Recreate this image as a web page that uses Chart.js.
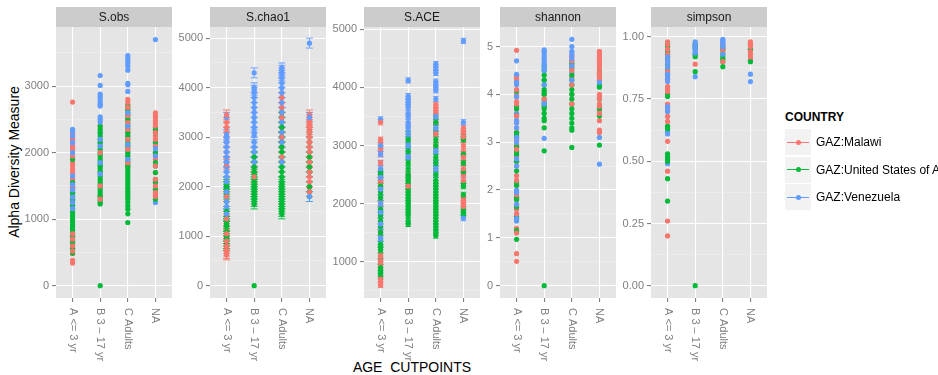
<!DOCTYPE html>
<html>
<head>
<meta charset="utf-8">
<script src="https://cdn.jsdelivr.net/npm/chart.js@4.4.0/dist/chart.umd.min.js"></script>
<style>
  body { margin: 0; background: #fff; font-family: "Liberation Sans", Arial, sans-serif; }
  #wrap { position: relative; width: 938px; height: 375px; overflow: hidden; }
  #wrap canvas { position: absolute; left: 0; top: 0; }
  .ytitle { position: absolute; left: 14px; top: 162px; transform: translate(-50%, -50%) rotate(-90deg);
            font-size: 14px; white-space: nowrap; color: #000; }
  .xtitle { position: absolute; left: 412px; top: 367px; transform: translate(-50%, -50%);
            font-size: 14px; white-space: pre; color: #000; }
  .ltitle { position: absolute; left: 785px; top: 110px; font-size: 12px; font-weight: bold; color: #000; }
  .lkey { position: absolute; left: 785px; width: 26px; height: 26px; background: #F2F2F2; }
  .lkey .line { position: absolute; left: 2px; top: 12.5px; width: 22px; height: 1px; }
  .lkey .dot { position: absolute; left: 10.5px; top: 10.5px; width: 5px; height: 5px; border-radius: 50%; }
  .ltext { position: absolute; left: 816px; font-size: 12px; color: #000; white-space: nowrap; }
</style>
</head>
<body>
<div id="wrap">
  <div class="ytitle">Alpha Diversity Measure</div>
  <div class="xtitle">AGE  CUTPOINTS</div>
  <div class="ltitle">COUNTRY</div>
</div>
<script>
// Categories and groups
const categories = ['A <= 3 yr', 'B 3 – 17 yr', 'C Adults', 'NA'];
const countries = ['GAZ:Malawi', 'GAZ:United States of America', 'GAZ:Venezuela'];
const countryColors = ['#F8766D', '#00BA38', '#619CFF'];

// Each series: values for [A, B, C, NA]
const obsMalawi = [
  [2760, 2290, 2250, 2200, 2150, 2100, 2050, 1950, 1850, 1800, 1750, 1700, 1600, 1480, 1400, 780, 740, 700, 650, 600, 560, 520, 480, 380, 340],
  [2400, 2000, 1700, 1500, 1350, 1300],
  [2800, 2760, 2720, 2680, 2640, 2560, 2500, 2450, 2400, 2350, 2300, 2200, 2100, 2050, 1950, 1850, 1800],
  [2600, 2560, 2520, 2480, 2440, 2400, 2340, 2300, 2250, 2200, 2150, 2100, 2000, 1950, 1900, 1800, 1700, 1600, 1550, 1500, 1450, 1400, 1370, 1340]
];
const obsUSA = [
  [1900, 1550, 1520, 1480, 1450, 1400, 1350, 1300, 1250, 1200, 1150, 1100, 1050, 1000, 960, 920, 880, 840, 800, 760, 720, 680, 640, 600, 560, 520, 490],
  [0, 1230, 1250, 1280, 1320, 1360, 1400, 1440, 1480, 1520, 1560, 1600, 1640, 1680, 1720, 1760, 1800, 1840, 1880, 1920, 1960, 2000, 2050, 2100, 2150, 2200, 2250, 2300, 2350, 2400],
  [950, 1080, 1150, 1200, 1250, 1300, 1340, 1380, 1420, 1460, 1500, 1540, 1580, 1620, 1660, 1700, 1740, 1780, 1820, 1860, 1900, 1950, 2000, 2050, 2100, 2150, 2200, 2250, 2300, 2350, 2400, 2450, 2500, 2550, 2600, 2650, 2700],
  [2380, 2340, 2300, 2150, 2100, 2000, 1850, 1800, 1700, 1600, 1550, 1450, 1300]
];
const obsVenezuela = [
  [2350, 2320, 2290, 2250, 2200, 2150, 2050, 2000, 1950, 1650, 1600, 1520, 1480, 1440, 1400, 1330, 1290, 1250, 1200, 1160],
  [3160, 3010, 2880, 2850, 2820, 2780, 2740, 2720, 2700, 2540, 2500, 2460, 2300, 2200, 2150, 2100, 2000, 1850, 1800, 1680],
  [3460, 3420, 3380, 3340, 3300, 3240, 3040, 3020, 2920, 2600, 2560, 2400, 2250, 2120, 2000, 1900],
  [3700, 2060, 2000, 1950, 1250]
];

const chao1Malawi = [
  [3450, 3300, 3200, 3100, 2900, 2700, 2500, 2450, 2100, 1800, 1400, 1350, 1200, 1050, 950, 900, 850, 800, 750, 700, 650, 620],
  [2400, 2200, 1900],
  [3800, 3700, 3600, 3400, 3200, 3000, 2800, 2600],
  [3450, 3400, 3350, 3300, 3250, 3200, 3150, 3100, 3000, 2900, 2800, 2700, 2600, 2500, 2400, 2300, 2200, 2100, 2000, 1900]
];
const chao1USA = [
  [2100, 2050, 2000, 1950, 1900, 1850, 1800, 1700, 1500, 1450, 1400, 1300, 1250, 1200, 1100, 1050, 1000, 950, 900, 850, 800],
  [0, 1650, 1700, 1750, 1800, 1850, 1900, 1950, 2000, 2050, 2100, 2150, 2200, 2250, 2300, 2400, 2500, 2600, 2700],
  [1450, 1500, 1550, 1600, 1650, 1700, 1750, 1800, 1850, 1900, 1950, 2000, 2050, 2100, 2200, 2300, 2400, 2500, 2600, 2700, 2800, 2900, 3000, 3100, 3200, 3300, 3400, 3500],
  [3100, 2900, 2700, 2600, 2500, 2400, 2300, 2000, 1900, 1800]
];
const chao1Venezuela = [
  [3400, 3050, 3000, 2900, 2800, 2700, 2600, 2500, 2400, 2300, 2200, 2100, 2000, 1900, 1800, 1700, 1600, 1450],
  [4300, 4000, 3950, 3900, 3800, 3700, 3600, 3500, 3400, 3300, 3200, 3100, 3050, 2900, 2800, 2700, 2600, 2500],
  [4400, 4350, 4300, 4250, 4200, 4100, 4000, 3900, 3800, 3700, 3600, 3500, 3400, 3300, 3200, 3100, 3000, 2900, 2800, 2500],
  [4900, 3400, 2300, 1800]
];

const aceMalawi = [
  [3400, 3100, 3050, 2950, 2850, 2700, 2500, 2400, 2350, 2000, 1500, 1100, 1050, 1000, 950, 700, 650, 600],
  [2500, 2300],
  [3700, 3650, 3600, 3550, 3400, 3200, 3000],
  [3300, 3250, 3200, 3150, 3100, 3000, 2900, 2800, 2700, 2600, 2500, 2400, 2100, 2050, 2000, 1950]
];
const aceUSA = [
  [2550, 2500, 2400, 2300, 2200, 2100, 2000, 1900, 1800, 1700, 1600, 1500, 1400, 1300, 1250, 1200, 1100, 1000, 900, 850, 800, 750],
  [1650, 1700, 1800, 1850, 1900, 1950, 2000, 2050, 2100, 2150, 2200, 2250, 2300, 2350, 2400, 2450, 2500, 2600, 2700, 2800, 2900, 3000, 3100, 3200],
  [1450, 1500, 1550, 1600, 1650, 1700, 1750, 1800, 1850, 1900, 1950, 2000, 2050, 2100, 2150, 2200, 2250, 2300, 2350, 2400, 2500, 2600, 2700, 2800, 2900, 3000, 3100, 3200, 3300, 3400, 3500],
  [3150, 3100, 2850, 2700, 2550, 2350, 2300, 2150, 1900, 1850, 1800]
];
const aceVenezuela = [
  [3450, 3000, 2950, 2850, 2700, 2600, 2500, 2450, 2400, 2250, 2100, 2000, 1900, 1850, 1800, 1650, 1550, 1400, 1300],
  [4120, 3850, 3800, 3750, 3700, 3650, 3550, 3500, 3400, 3350, 3300, 3200, 3100, 3000, 2900, 2800],
  [4400, 4350, 4300, 4250, 4100, 4050, 4000, 3950, 3800, 3500, 3400, 3300, 3200, 2900, 2700, 2600, 2500],
  [4800, 3400, 2500, 1750]
];

const shannonMalawi = [
  [4.92, 4.35, 4.3, 4.1, 4.0, 3.95, 3.85, 3.8, 3.7, 3.55, 3.45, 3.3, 3.2, 3.05, 2.95, 2.85, 2.7, 2.5, 2.3, 2.2, 2.1, 1.9, 1.85, 1.7, 1.6, 1.5, 1.2, 1.1, 0.67, 0.51],
  [4.0, 3.9],
  [4.8, 4.7, 4.6, 4.5, 4.35, 4.2, 4.0, 3.8],
  [4.9, 4.85, 4.8, 4.75, 4.7, 4.65, 4.6, 4.55, 4.5, 4.45, 4.4, 4.35, 4.3, 4.0, 3.95, 3.9, 3.8, 3.75, 3.65, 3.6, 3.45, 3.25, 3.2]
];
const shannonUSA = [
  [4.07, 3.75, 3.7, 3.55, 3.2, 3.15, 3.1, 2.9, 2.8, 2.75, 2.6, 2.4, 2.15, 2.1, 1.85, 1.8, 1.65, 1.45, 1.4, 1.15, 1.12, 0.97],
  [0, 2.82, 3.3, 3.45, 3.5, 3.6, 3.7, 3.75, 3.8, 3.9, 4.0, 4.05, 4.1, 4.2, 4.3, 4.4, 4.5, 4.6],
  [4.65, 4.55, 4.4, 4.3, 4.2, 4.1, 4.0, 3.9, 3.8, 3.7, 3.6, 3.5, 3.4, 3.3, 3.25, 2.89],
  [4.45, 4.2, 4.15, 3.9, 3.7, 3.55, 2.94]
];
const shannonVenezuela = [
  [4.7, 4.42, 4.4, 4.25, 4.2, 3.95, 3.6, 3.45, 3.4, 3.3, 3.2, 3.1, 3.05, 3.0, 2.9, 2.65, 2.6, 2.5, 2.0, 1.95, 1.8, 1.7, 1.5, 1.4, 1.35],
  [4.93, 4.9, 4.85, 4.8, 4.75, 4.7, 4.65, 4.6, 4.55, 4.5, 4.3, 4.2, 3.85, 3.8, 3.08],
  [5.15, 5.0, 4.9, 4.85, 4.8, 4.75, 4.7, 4.6, 4.45, 4.3, 4.2],
  [4.3, 4.25, 3.1, 2.54]
];

const simpsonMalawi = [
  [0.98, 0.97, 0.96, 0.95, 0.94, 0.93, 0.92, 0.9, 0.88, 0.86, 0.83, 0.8, 0.79, 0.78, 0.77, 0.73, 0.72, 0.7, 0.68, 0.66, 0.64, 0.58, 0.46, 0.26, 0.2],
  [0.97, 0.89],
  [0.97, 0.95, 0.94, 0.9],
  [0.98, 0.975, 0.97, 0.96, 0.95, 0.94, 0.93, 0.92, 0.91]
];
const simpsonUSA = [
  [0.97, 0.96, 0.94, 0.93, 0.92, 0.9, 0.88, 0.86, 0.85, 0.77, 0.76, 0.64, 0.63, 0.53, 0.52, 0.51, 0.5, 0.43, 0.34],
  [0, 0.86, 0.92, 0.93, 0.95, 0.96, 0.97],
  [0.96, 0.95, 0.93, 0.92, 0.91, 0.9, 0.88],
  [0.95, 0.9]
];
const simpsonVenezuela = [
  [0.93, 0.92, 0.91, 0.9, 0.89, 0.88, 0.87, 0.85, 0.84, 0.83, 0.82, 0.72, 0.71, 0.7, 0.62, 0.61, 0.49],
  [0.98, 0.97, 0.965, 0.96, 0.955, 0.95, 0.94, 0.935, 0.93, 0.84],
  [0.99, 0.985, 0.98, 0.975, 0.97, 0.96, 0.95, 0.93],
  [0.97, 0.85, 0.82]
];

// Standard errors drawn as error bars (estimates)
const chao1Se = 100;
const aceSe = 45;

// Tick values
const obsTicks = [0, 1000, 2000, 3000];
const obsMinor = [500, 1500, 2500, 3500];
const chao1Ticks = [0, 1000, 2000, 3000, 4000, 5000];
const chao1Minor = [500, 1500, 2500, 3500, 4500];
const aceTicks = [1000, 2000, 3000, 4000, 5000];
const aceMinor = [500, 1500, 2500, 3500, 4500];
const shannonTicks = [0, 1, 2, 3, 4, 5];
const shannonMinor = [0.5, 1.5, 2.5, 3.5, 4.5];
const simpsonTicks = [0, 0.25, 0.5, 0.75, 1];
const simpsonMinor = [0.125, 0.375, 0.625, 0.875];

// Panel setup
const panels = [
  { title: 'S.obs', series: [obsMalawi, obsUSA, obsVenezuela], min: -185, max: 3889, ticks: obsTicks, minor: obsMinor, digits: 0, se: 0, cap: 0 },
  { title: 'S.chao1', series: [chao1Malawi, chao1USA, chao1Venezuela], min: -249, max: 5226, ticks: chao1Ticks, minor: chao1Minor, digits: 0, se: chao1Se, cap: 3.5 },
  { title: 'S.ACE', series: [aceMalawi, aceUSA, aceVenezuela], min: 375, max: 5040, ticks: aceTicks, minor: aceMinor, digits: 0, se: aceSe, cap: 2.8 },
  { title: 'shannon', series: [shannonMalawi, shannonUSA, shannonVenezuela], min: -0.2575, max: 5.4075, ticks: shannonTicks, minor: shannonMinor, digits: 0, se: 0, cap: 0 },
  { title: 'simpson', series: [simpsonMalawi, simpsonUSA, simpsonVenezuela], min: -0.0495, max: 1.0395, ticks: simpsonTicks, minor: simpsonMinor, digits: 2, se: 0, cap: 0 }
];

const W = 938, H = 375;
const panelLefts = [56, 210, 364, 500, 651];
const panelW = 116, panelTop = 27, panelBottom = 298;
const axisW = 40, xAxisH = 12, stripH = 20;
// points are split in two halves so that colours interleave like sample order does
// (higher order is drawn first)
const halfOrder = [[5, 4, 6], [2, 3, 1]];
const fontFamily = '"Liberation Sans", Arial, sans-serif';

Chart.defaults.font.family = fontFamily;

const facetPlugin = {
  id: 'facet',
  beforeDraw(chart, args, opts) {
    const { ctx, chartArea: a } = chart;
    ctx.save();
    ctx.fillStyle = '#E5E5E5';
    ctx.fillRect(a.left, a.top, a.width, a.height);
    ctx.fillStyle = '#CCCCCC';
    ctx.fillRect(a.left, a.top - stripH, a.width, stripH);
    ctx.fillStyle = '#1A1A1A';
    ctx.font = '12px ' + fontFamily;
    ctx.textAlign = 'center';
    ctx.textBaseline = 'middle';
    ctx.fillText(opts.title, (a.left + a.right) / 2, a.top - stripH / 2 + 0.5);
    ctx.restore();
  },
  beforeDatasetsDraw(chart, args, opts) {
    if (!opts.se) return;
    const { ctx, chartArea: a, scales: { x, y } } = chart;
    ctx.save();
    ctx.beginPath();
    ctx.rect(a.left, a.top, a.width, a.height);
    ctx.clip();
    ctx.lineWidth = 0.9;
    const sets = chart.data.datasets.slice().sort((d1, d2) => d2.order - d1.order);
    sets.forEach(ds => {
      ctx.strokeStyle = ds.backgroundColor;
      ds.data.forEach(p => {
        if (p.y <= 0) return;
        const px = x.getPixelForValue(p.x);
        const top = y.getPixelForValue(p.y + opts.se);
        const bot = y.getPixelForValue(p.y - opts.se);
        ctx.beginPath();
        ctx.moveTo(px, top); ctx.lineTo(px, bot);
        ctx.moveTo(px - opts.cap, top); ctx.lineTo(px + opts.cap, top);
        ctx.moveTo(px - opts.cap, bot); ctx.lineTo(px + opts.cap, bot);
        ctx.stroke();
      });
    });
    ctx.restore();
  },
  afterDraw(chart) {
    const { ctx, chartArea: a, scales: { x } } = chart;
    ctx.save();
    ctx.fillStyle = '#7F7F7F';
    ctx.font = '11px ' + fontFamily;
    ctx.textAlign = 'left';
    ctx.textBaseline = 'middle';
    categories.forEach((c, k) => {
      ctx.save();
      ctx.translate(x.getPixelForValue(k + 1), a.bottom + 10);
      ctx.rotate(Math.PI / 2);
      ctx.fillText(c, 0, 0);
      ctx.restore();
    });
    ctx.restore();
  }
};

const wrap = document.getElementById('wrap');

panels.forEach((p, i) => {
  const canvas = document.createElement('canvas');
  canvas.width = W;
  canvas.height = H;
  wrap.appendChild(canvas);
  const left = panelLefts[i];
  const yTicks = [...p.minor, ...p.ticks].sort((a, b) => a - b);
  const isMajor = v => p.ticks.some(t => Math.abs(t - v) < 1e-9);

  const datasets = [];
  [0, 1].forEach(half => {
    countries.forEach((name, c) => {
      datasets.push({
        label: name,
        data: p.series[c].flatMap((vals, k) =>
          vals.filter((v, j) => j % 2 === half).map(v => ({ x: k + 1, y: v }))),
        backgroundColor: countryColors[c],
        borderWidth: 0,
        pointRadius: 2.6,
        pointHoverRadius: 2.6,
        order: halfOrder[half][c]
      });
    });
  });

  new Chart(canvas, {
    type: 'scatter',
    data: { datasets },
    options: {
      responsive: false,
      animation: false,
      events: [],
      layout: {
        padding: { left: left - axisW, right: W - left - panelW, top: panelTop, bottom: H - panelBottom - xAxisH }
      },
      scales: {
        x: {
          type: 'linear',
          min: 0.4,
          max: 4.6,
          afterBuildTicks: s => { s.ticks = categories.map((c, k) => ({ value: k + 1 })); },
          afterFit: s => { s.height = xAxisH; },
          ticks: { callback: () => '', autoSkip: false },
          grid: { color: '#FFFFFF', lineWidth: 1.1, tickColor: '#7F7F7F', tickLength: 4 },
          border: { display: false }
        },
        y: {
          type: 'linear',
          min: p.min,
          max: p.max,
          afterBuildTicks: s => { s.ticks = yTicks.map(v => ({ value: v })); },
          afterFit: s => { s.width = axisW; },
          ticks: {
            autoSkip: false,
            color: '#7F7F7F',
            font: { size: 11 },
            padding: 3,
            callback: v => isMajor(v) ? v.toFixed(p.digits) : ''
          },
          grid: {
            color: ctx => isMajor(ctx.tick.value) ? '#FFFFFF' : '#F2F2F2',
            lineWidth: ctx => isMajor(ctx.tick.value) ? 1.1 : 0.55,
            tickColor: ctx => isMajor(ctx.tick.value) ? '#7F7F7F' : 'rgba(0,0,0,0)',
            tickLength: 4
          },
          border: { display: false }
        }
      },
      plugins: {
        legend: { display: false },
        tooltip: { enabled: false },
        facet: { title: p.title, se: p.se, cap: p.cap }
      }
    },
    plugins: [facetPlugin]
  });
});

// Legend
const keyTops = [129, 156.5, 184];
countries.forEach((name, c) => {
  const key = document.createElement('div');
  key.className = 'lkey';
  key.style.top = keyTops[c] + 'px';
  key.innerHTML = `<div class="line" style="background:${countryColors[c]}"></div>` +
                  `<div class="dot" style="background:${countryColors[c]}"></div>`;
  wrap.appendChild(key);
  const text = document.createElement('div');
  text.className = 'ltext';
  text.style.top = (keyTops[c] + 6) + 'px';
  text.textContent = name;
  wrap.appendChild(text);
});
</script>
</body>
</html>
